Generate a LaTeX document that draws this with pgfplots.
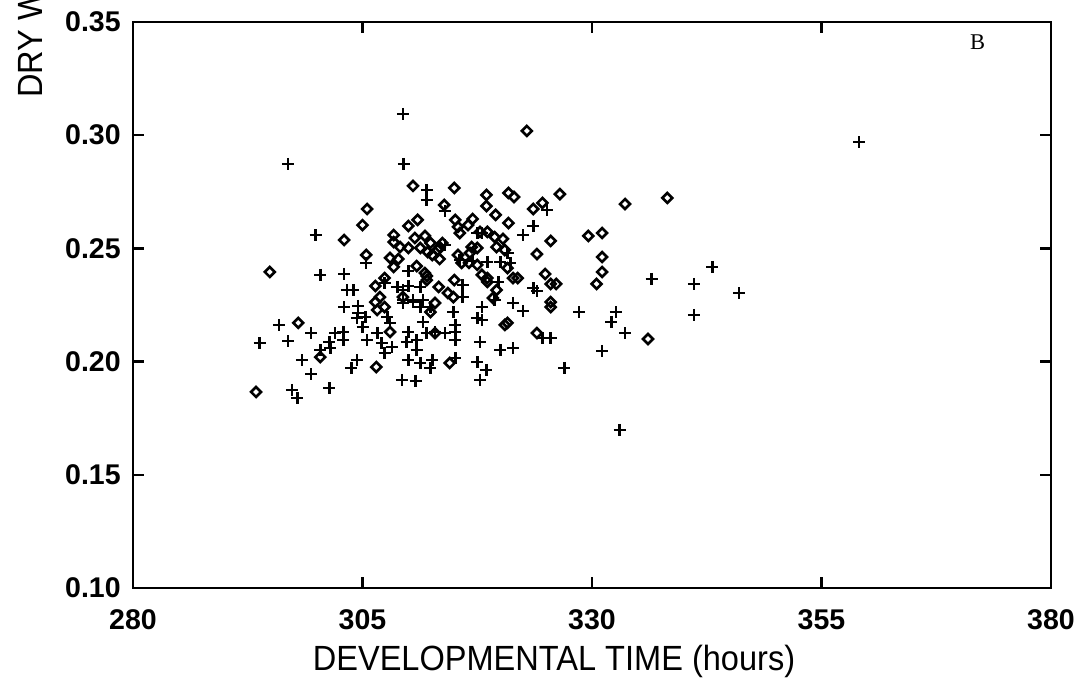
\documentclass[border=0pt]{standalone}
\usepackage{fontspec}
\setmainfont{Liberation Sans}
\newfontfamily\labelfont[FakeStretch=0.93]{Liberation Sans}
\newfontfamily\seriffont{Liberation Serif}
\usepackage{pgfplots}
\pgfplotsset{compat=1.18}

\pgfplotstableread{
x y
296.9 0.2873
309.4 0.3094
309.5 0.2873
359.1 0.2970
333.0 0.1698
312.0 0.2758
312.0 0.2714
299.9 0.2559
305.4 0.2436
300.4 0.2383
303.0 0.2387
310.0 0.2400
308.8 0.2330
310.0 0.2334
311.3 0.2330
303.3 0.2316
304.0 0.2316
303.0 0.2241
304.5 0.2246
304.5 0.2215
309.4 0.2259
310.5 0.2263
304.4 0.2193
305.3 0.2197
307.7 0.2197
308.0 0.2171
295.9 0.2162
299.4 0.2126
302.0 0.2126
302.9 0.2131
302.9 0.2095
305.0 0.2153
306.6 0.2126
310.0 0.2131
311.6 0.2175
312.9 0.2131
293.8 0.2082
296.9 0.2091
301.4 0.2087
301.5 0.2060
305.5 0.2095
307.1 0.2082
308.2 0.2064
309.8 0.2087
310.9 0.2095
310.9 0.2051
300.4 0.2051
298.4 0.2007
307.4 0.2038
304.4 0.2007
303.8 0.1972
310.0 0.2007
311.3 0.1994
312.6 0.2007
312.4 0.1972
299.4 0.1945
297.3 0.1875
297.9 0.1839
301.4 0.1883
309.3 0.1919
310.8 0.1914
315.1 0.2016
317.5 0.1998
318.5 0.1963
317.8 0.1919
317.8 0.2087
320.0 0.2051
321.4 0.2060
331.1 0.2047
327.0 0.1972
333.6 0.2126
332.1 0.2175
332.6 0.2219
328.6 0.2219
324.6 0.2104
325.5 0.2104
321.4 0.2259
322.5 0.2224
319.4 0.2272
318.0 0.2241
317.5 0.2193
318.0 0.2184
324.0 0.2312
336.5 0.2365
343.1 0.2418
341.1 0.2343
346.0 0.2303
341.1 0.2206
323.6 0.2325
315.9 0.2338
315.9 0.2285
319.8 0.2352
322.5 0.2559
323.6 0.2599
320.8 0.2480
314.0 0.2665
314.0 0.2515
317.5 0.2568
318.0 0.2568
315.6 0.2449
317.0 0.2444
318.6 0.2440
320.0 0.2440
321.1 0.2436
309.4 0.2272
310.5 0.2272
311.6 0.2272
311.3 0.2241
312.4 0.2241
307.4 0.2347
309.4 0.2316
314.9 0.2219
312.0 0.2126
314.0 0.2126
315.1 0.2131
315.1 0.2162
315.1 0.2095
325.1 0.2670
}\plusdata

\pgfplotstableread{
x y
322.9 0.3019
294.9 0.2396
293.4 0.1866
298.0 0.2171
300.4 0.2020
306.5 0.1976
310.5 0.2776
305.5 0.2674
305.0 0.2603
303.0 0.2537
310.0 0.2599
311.0 0.2626
308.4 0.2559
305.4 0.2471
308.0 0.2458
308.9 0.2453
308.4 0.2418
310.0 0.2502
310.9 0.2422
312.0 0.2378
307.4 0.2369
306.4 0.2334
306.9 0.2285
306.4 0.2263
306.6 0.2228
307.4 0.2241
309.4 0.2285
312.9 0.2259
308.0 0.2131
315.0 0.2767
318.5 0.2736
318.5 0.2687
320.9 0.2745
321.5 0.2727
313.9 0.2692
319.5 0.2648
323.6 0.2674
315.1 0.2626
315.4 0.2595
315.6 0.2568
317.0 0.2630
316.5 0.2603
320.9 0.2612
308.4 0.2528
309.1 0.2506
310.7 0.2546
311.8 0.2555
312.4 0.2524
311.3 0.2502
312.1 0.2484
312.6 0.2471
313.4 0.2506
313.7 0.2524
313.2 0.2493
313.4 0.2453
317.8 0.2573
318.6 0.2573
319.4 0.2550
320.3 0.2542
316.9 0.2506
317.5 0.2502
316.7 0.2480
319.6 0.2506
320.5 0.2493
315.4 0.2471
315.8 0.2436
316.6 0.2436
317.5 0.2427
320.8 0.2413
318.0 0.2383
318.6 0.2369
318.6 0.2352
321.4 0.2369
321.9 0.2369
319.6 0.2316
319.2 0.2281
315.0 0.2360
314.3 0.2303
314.9 0.2285
313.3 0.2330
311.8 0.2391
312.0 0.2360
312.4 0.2219
312.9 0.2126
320.8 0.2171
320.5 0.2162
324.0 0.2126
314.5 0.1994
326.5 0.2740
324.6 0.2701
333.6 0.2696
338.2 0.2723
325.5 0.2533
329.6 0.2555
331.1 0.2568
324.0 0.2475
331.1 0.2462
331.1 0.2396
330.5 0.2343
324.9 0.2387
325.5 0.2343
326.1 0.2343
325.5 0.2263
325.5 0.2241
336.1 0.2100
}\diamdata

\begin{document}
\begin{tikzpicture}
\begin{axis}[
  name=ax, at={(0,0)}, anchor=south west,
  width=367.2pt, height=226.4pt, scale only axis,
  xmin=280, xmax=380, ymin=0.10, ymax=0.35,
  xtick={280,305,330,355,380},
  ytick={0.10,0.15,0.20,0.25,0.30,0.35},
  /pgf/number format/assume math mode=true,
  tick label style={font=\fontsize{11.4}{13}\selectfont\bfseries},
  xticklabel style={yshift=-5pt},
  yticklabel style={xshift=-1.4pt, /pgf/number format/fixed, /pgf/number format/fixed zerofill, /pgf/number format/precision=2},
  tick align=inside, major tick length=4.5pt,
  axis line style={line width=0.9pt},
  every tick/.style={black, line width=0.9pt},
  scaled y ticks=false,
]
\addplot[only marks, mark=+, mark size=2.4pt, mark options={line width=1.05pt}] table[x=x,y=y] {\plusdata};
\addplot[only marks, mark=square, mark size=1.4pt, mark options={rotate=45, line width=1.05pt}] table[x=x,y=y] {\diamdata};
\node[font=\seriffont\fontsize{9}{10}\selectfont] at (axis cs:372,0.341) {B};
\end{axis}
\node[anchor=base, font=\labelfont\fontsize{14}{16}\selectfont] at (168.4pt,-32.8pt) {DEVELOPMENTAL TIME (hours)};
\begin{scope}
\clip (-53.2pt,-38.8pt) rectangle (383.2pt,235.2pt);
\node[rotate=90, anchor=base west, font=\labelfont\fontsize{14}{16}\selectfont] at (-36pt,192.5pt) {DRY WEIGHT (mg)};
\end{scope}
\pgfresetboundingbox
\useasboundingbox (-53.2pt,-38.8pt) rectangle (383.2pt,235.2pt);
\end{tikzpicture}
\end{document}
